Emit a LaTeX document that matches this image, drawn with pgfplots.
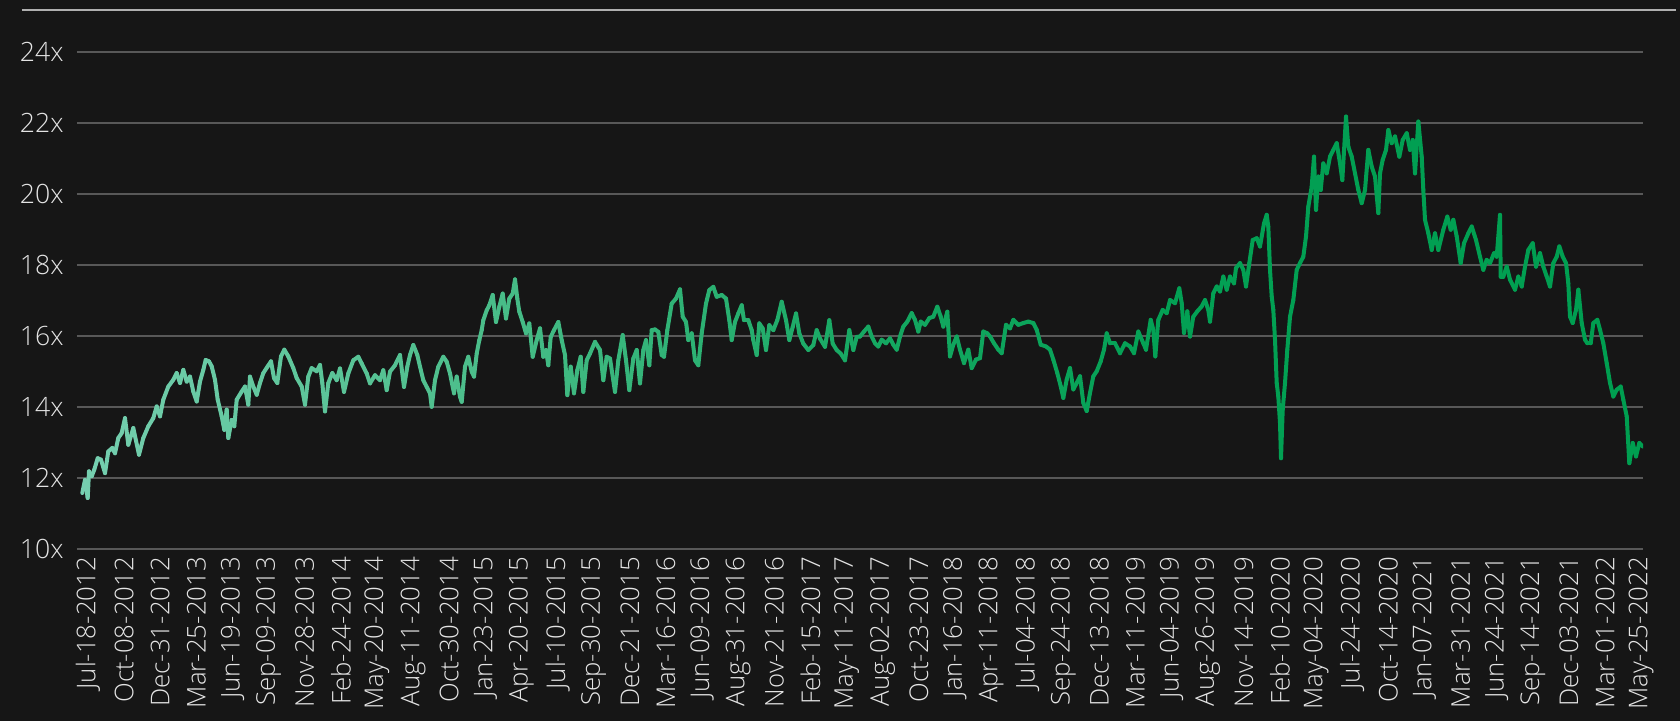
\documentclass[border=0pt]{standalone}
\usepackage{pgfplots}
\usepackage{pgfplotstable}
\pgfplotsset{compat=1.18}
\usepackage{fontspec}
\IfFontExistsTF{Open Sans Light}{\setmainfont{Open Sans Light}}{\setmainfont{Open Sans}}
\definecolor{bgc}{RGB}{22,22,22}
\definecolor{gridc}{RGB}{88,88,88}
\definecolor{topc}{RGB}{175,175,175}
\definecolor{labc}{RGB}{228,228,228}

\pgfplotstableread{
px pe
82.3 11.57
85.0 11.94
87.7 11.43
89.0 12.18
91.7 12.04
94.3 12.23
97.7 12.55
101.0 12.51
105.0 12.13
108.3 12.74
112.3 12.84
115.0 12.69
118.3 13.12
121.7 13.26
125.0 13.68
128.3 12.93
133.3 13.40
139.0 12.65
143.3 13.12
148.3 13.45
153.3 13.68
156.7 14.01
160.0 13.73
163.3 14.20
168.3 14.57
173.3 14.76
176.7 14.95
180.0 14.67
183.3 15.04
186.7 14.71
190.0 14.85
193.3 14.43
196.7 14.15
200.0 14.71
203.3 15.04
205.7 15.32
209.0 15.28
211.7 15.14
215.0 14.76
217.7 14.20
221.7 13.73
224.3 13.35
226.7 13.92
228.3 13.12
231.7 13.63
234.3 13.45
236.7 14.20
241.7 14.43
245.0 14.57
248.3 14.06
250.0 14.85
253.3 14.57
256.7 14.34
260.0 14.67
263.3 14.95
267.7 15.14
271.0 15.28
274.0 14.81
277.3 14.67
281.0 15.42
284.3 15.61
288.3 15.42
293.3 15.09
296.7 14.81
301.7 14.57
305.0 14.06
308.3 14.85
311.7 15.09
316.7 15.00
320.0 15.18
322.3 14.67
325.0 13.87
328.3 14.67
332.3 14.95
336.7 14.75
340.0 15.08
344.0 14.42
348.3 14.94
353.3 15.31
358.3 15.41
361.7 15.22
366.7 14.94
370.0 14.66
375.0 14.89
380.0 14.75
383.3 15.03
386.7 14.47
390.0 14.99
395.0 15.17
400.0 15.46
404.0 14.56
407.3 15.13
410.0 15.46
413.3 15.74
417.3 15.46
420.0 15.13
423.3 14.75
426.7 14.56
430.0 14.38
431.7 14.00
435.0 14.75
438.3 15.13
443.3 15.41
446.7 15.27
450.0 14.94
454.0 14.38
456.7 14.85
460.0 14.28
461.7 14.14
465.0 15.13
468.3 15.41
471.7 14.99
474.0 14.85
476.7 15.50
479.3 15.88
481.7 16.16
483.3 16.44
486.7 16.72
489.3 16.86
492.7 17.15
496.0 16.39
499.3 16.82
502.7 17.19
506.0 16.49
509.3 17.05
512.7 17.19
515.0 17.59
517.3 17.05
519.3 16.68
522.7 16.39
526.0 16.07
529.3 16.35
532.7 15.41
536.7 15.88
540.0 16.21
543.3 15.41
546.0 15.60
548.3 15.17
550.7 15.97
554.0 16.16
558.3 16.39
561.7 15.88
565.0 15.46
567.3 14.33
570.7 15.13
574.0 14.38
577.3 15.03
580.7 15.41
583.3 14.42
586.7 15.31
590.0 15.50
595.0 15.83
600.0 15.60
603.3 14.75
606.7 15.41
610.0 15.36
615.0 14.42
618.3 15.31
622.7 16.02
626.0 15.31
629.3 14.47
633.3 15.36
636.7 15.60
640.0 14.66
643.3 15.60
646.0 15.88
649.3 15.17
651.7 16.16
655.0 16.18
658.3 16.11
661.7 15.46
664.0 15.41
667.3 16.16
671.7 16.91
676.0 17.05
680.0 17.31
682.7 16.54
686.0 16.39
688.3 15.88
691.7 16.07
695.0 15.31
698.3 15.17
701.7 16.07
706.0 16.91
709.3 17.29
713.3 17.38
716.7 17.10
721.7 17.15
726.0 17.05
729.3 16.44
731.7 15.88
735.0 16.39
738.3 16.63
741.7 16.86
744.0 16.44
748.3 16.44
751.7 16.16
753.3 15.88
756.7 15.46
759.3 16.35
762.7 16.21
766.0 15.60
769.3 16.30
773.3 16.16
777.3 16.44
781.7 16.96
786.0 16.44
789.3 15.88
792.7 16.25
796.0 16.63
799.3 16.07
803.3 15.78
808.3 15.60
813.3 15.74
816.7 16.16
820.0 15.92
825.0 15.69
829.3 16.44
832.7 15.78
836.7 15.60
840.7 15.50
845.0 15.31
849.3 16.16
853.3 15.60
856.7 15.97
860.0 15.98
864.0 16.12
868.3 16.26
871.7 15.98
875.0 15.79
878.3 15.70
881.7 15.89
886.0 15.79
890.0 15.93
893.3 15.75
896.7 15.61
900.0 15.98
903.3 16.26
907.3 16.40
911.7 16.64
915.0 16.45
918.3 16.12
920.7 16.40
925.0 16.31
929.3 16.50
933.3 16.54
937.3 16.82
940.7 16.54
943.3 16.26
947.3 16.68
950.0 15.42
953.3 15.75
956.7 15.98
960.0 15.61
964.0 15.23
968.3 15.61
971.7 15.09
976.0 15.33
980.0 15.37
983.3 16.12
987.3 16.07
990.0 15.98
994.0 15.79
998.3 15.61
1001.7 15.51
1006.0 16.31
1010.0 16.21
1013.3 16.45
1018.3 16.31
1023.3 16.36
1028.3 16.40
1033.3 16.36
1036.7 16.17
1040.7 15.75
1046.0 15.70
1050.0 15.61
1053.3 15.33
1057.3 14.95
1060.7 14.58
1063.3 14.25
1066.7 14.77
1070.0 15.09
1073.3 14.49
1076.7 14.67
1080.0 14.86
1083.3 14.11
1086.7 13.88
1090.0 14.39
1093.3 14.86
1096.7 15.00
1100.7 15.28
1104.0 15.61
1106.7 16.07
1110.0 15.79
1115.0 15.79
1120.0 15.51
1125.0 15.79
1130.0 15.70
1134.0 15.51
1138.3 16.12
1143.3 15.79
1146.0 15.61
1150.7 16.45
1153.3 16.17
1155.3 15.42
1158.3 16.45
1162.7 16.73
1166.7 16.64
1170.0 17.01
1175.0 16.92
1179.3 17.34
1181.7 16.92
1184.0 16.08
1187.3 16.69
1190.0 15.98
1193.3 16.54
1197.3 16.69
1201.7 16.83
1205.0 17.01
1208.3 16.73
1210.0 16.40
1213.3 17.20
1216.7 17.39
1220.0 17.25
1223.3 17.67
1226.7 17.30
1230.0 17.67
1234.0 17.48
1236.0 17.91
1240.0 18.05
1243.3 17.86
1246.0 17.39
1249.3 18.05
1252.7 18.70
1256.7 18.75
1260.0 18.52
1264.0 19.17
1266.7 19.41
1268.3 19.08
1270.0 17.86
1271.7 17.11
1273.3 16.73
1275.0 15.89
1276.7 14.67
1278.3 14.29
1280.0 13.54
1281.0 12.55
1282.7 13.92
1285.0 14.67
1287.3 15.61
1290.0 16.54
1293.3 17.01
1296.7 17.86
1300.0 18.05
1303.3 18.23
1306.0 18.80
1308.3 19.64
1311.7 20.21
1314.0 21.05
1316.0 19.55
1318.3 20.49
1320.7 20.11
1323.3 20.86
1326.7 20.58
1330.0 21.05
1333.3 21.24
1336.7 21.43
1340.0 20.86
1342.3 20.39
1346.0 22.18
1348.3 21.33
1351.7 21.05
1355.0 20.58
1358.3 20.11
1361.7 19.74
1365.0 20.11
1368.3 21.24
1371.7 20.77
1375.0 20.49
1378.3 19.46
1380.0 20.58
1382.7 20.96
1386.0 21.24
1388.3 21.80
1391.7 21.43
1395.0 21.62
1399.3 21.05
1402.7 21.52
1406.7 21.71
1410.0 21.24
1412.7 21.52
1415.0 20.58
1418.3 22.04
1421.7 21.05
1423.3 20.11
1425.0 19.27
1428.3 18.89
1431.7 18.42
1435.0 18.89
1438.3 18.42
1443.3 18.99
1447.3 19.36
1450.7 18.99
1453.3 19.27
1456.7 18.80
1460.7 18.05
1464.0 18.61
1468.3 18.89
1471.7 19.08
1476.0 18.70
1480.0 18.23
1483.3 17.86
1486.7 18.14
1490.0 18.05
1494.0 18.33
1496.7 18.23
1500.0 19.41
1500.7 17.67
1503.3 17.67
1506.7 17.95
1510.0 17.58
1515.0 17.30
1518.3 17.67
1521.7 17.39
1525.0 17.95
1528.3 18.42
1532.7 18.61
1536.0 17.95
1540.0 18.33
1543.3 17.95
1546.7 17.67
1550.0 17.39
1553.3 18.05
1556.7 18.23
1559.3 18.52
1562.7 18.23
1566.0 18.05
1568.3 17.48
1570.0 16.54
1572.7 16.36
1576.0 16.73
1578.3 17.30
1581.7 16.36
1585.0 15.89
1587.3 15.79
1590.7 15.79
1593.3 16.36
1597.3 16.45
1600.0 16.17
1603.3 15.79
1606.7 15.23
1610.0 14.67
1613.3 14.29
1616.7 14.48
1620.7 14.57
1623.3 14.20
1626.7 13.73
1629.3 12.41
1632.7 12.98
1636.0 12.60
1639.3 12.98
1642.7 12.88
}\pedata

\begin{document}
\begin{tikzpicture}
\fill[bgc] (-38.5pt,-86.15pt) rectangle (801.5pt,274.35pt);
\begin{axis}[
  at={(0pt,0pt)}, anchor=south west,
  scale only axis, width=783pt, height=248.35pt,
  xmin=77, xmax=1643, ymin=10, ymax=24,
  axis line style={draw=none},
  major tick length=0pt,
  ymajorgrids, grid style={gridc, line width=1pt},
  ytick={10,12,...,24},
  yticklabels={10x,12x,14x,16x,18x,20x,22x,24x},
  xtick={88,124.12,...,1642},
  xticklabels={Jul-18-2012,Oct-08-2012,Dec-31-2012,Mar-25-2013,Jun-19-2013,Sep-09-2013,Nov-28-2013,Feb-24-2014,May-20-2014,Aug-11-2014,Oct-30-2014,Jan-23-2015,Apr-20-2015,Jul-10-2015,Sep-30-2015,Dec-21-2015,Mar-16-2016,Jun-09-2016,Aug-31-2016,Nov-21-2016,Feb-15-2017,May-11-2017,Aug-02-2017,Oct-23-2017,Jan-16-2018,Apr-11-2018,Jul-04-2018,Sep-24-2018,Dec-13-2018,Mar-11-2019,Jun-04-2019,Aug-26-2019,Nov-14-2019,Feb-10-2020,May-04-2020,Jul-24-2020,Oct-14-2020,Jan-07-2021,Mar-31-2021,Jun-24-2021,Sep-14-2021,Dec-03-2021,Mar-01-2022,May-25-2022},
  yticklabel style={labc, font=\fontsize{13.3}{16}\selectfont, anchor=east, inner sep=0pt, xshift=-6.5pt},
  xticklabel style={labc, font=\fontsize{12.9}{15}\selectfont, yshift=-4pt, rotate=90, anchor=east, inner sep=0pt},
  colormap={ribbon}{rgb255(0cm)=(118,207,176); rgb255(5cm)=(76,190,139); rgb255(10cm)=(22,168,98); rgb255(14cm)=(3,160,84); rgb255(20cm)=(0,158,80)},
  point meta min=82, point meta max=1643,
]
\addplot[mesh, shader=flat, line width=2pt, line join=round, line cap=round, point meta=x] table[x=px, y=pe] {\pedata};
\end{axis}
\draw[topc, line width=1pt] (-27.5pt,269.1pt) -- (799.5pt,269.1pt);
\end{tikzpicture}
\end{document}
